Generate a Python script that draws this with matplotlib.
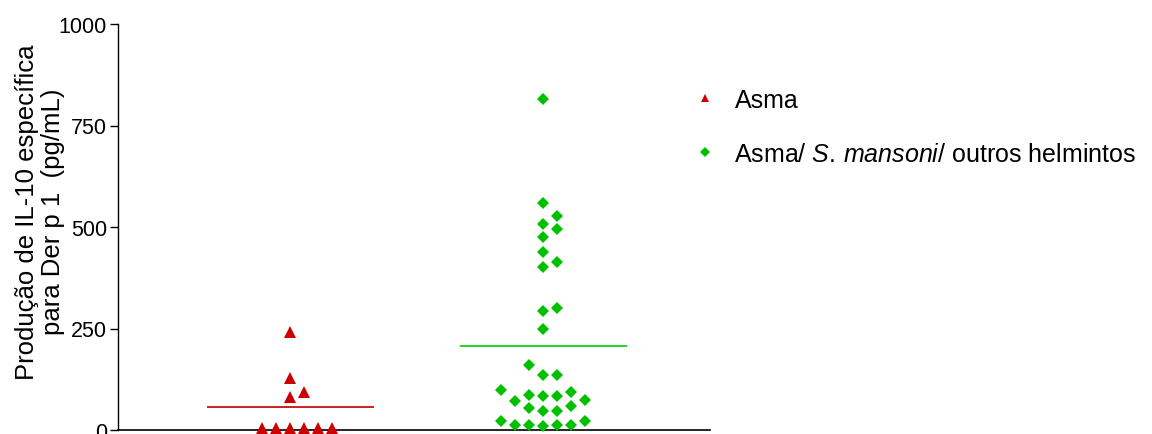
import matplotlib.pyplot as plt
import numpy as np
from matplotlib.lines import Line2D

plt.rcParams['font.family'] = ['Liberation Sans', 'DejaVu Sans']
plt.rcParams['mathtext.fontset'] = 'custom'
plt.rcParams['mathtext.rm'] = 'Liberation Sans'
plt.rcParams['mathtext.it'] = 'Liberation Sans:italic'

# data (pg/mL)
labels = ['Asma', r'Asma/ $\mathit{S.\,mansoni/}$ outros helmintos']
asma = [5, 5, 5, 5, 5, 5, 81, 94, 128, 241]
asma_helm = [10, 12, 12, 12, 12, 22, 22,
             47, 47, 54, 59, 71, 74,
             84, 84, 86, 94, 99,
             135, 135, 160,
             249, 293, 300,
             401, 414, 438, 475, 495, 507, 527, 559,
             815]
groups = [asma, asma_helm]
colors = ['#CC0000', '#00C000']
line_colors = ['#C82020', '#00CC00']
markers = ['^', 'D']
msizes = [8, 6.5]
yticks = [0, 250, 500, 750, 1000]

fig = plt.figure(figsize=(11.52, 4.35), dpi=100)
ax = fig.add_axes([118 / 1152, 4 / 435, 592 / 1152, 406 / 435])
ax.set_xlim(0.32, 2.66)
ax.set_ylim(0, 1000)


def swarm(vals, center, step=14, dist=12):
    # simple beeswarm in pixel space, points on a grid of horizontal slots
    vals = np.asarray(vals, float)
    xs = np.zeros(len(vals))
    placed = []
    cx = ax.transData.transform((center, 0))[0]
    slots = [0]
    for k in range(1, 10):
        slots += [k, -k]
    for i in np.argsort(vals, kind='stable'):
        py = ax.transData.transform((center, vals[i]))[1]
        for k in slots:
            px = cx + k * step
            if all(np.hypot(px - qx, py - qy) >= dist for qx, qy in placed):
                break
        placed.append((px, py))
        xs[i] = ax.transData.inverted().transform((px, py))[0]
    return xs


for i, vals in enumerate(groups):
    pos = i + 1
    xs = swarm(vals, pos)
    ax.plot(xs, vals, linestyle='none', marker=markers[i], ms=msizes[i],
            color=colors[i], mew=0, clip_on=False, zorder=3)
    ax.hlines(np.mean(vals), pos - 0.33, pos + 0.33, color=line_colors[i],
              lw=1.4 if i == 0 else 1.2, zorder=2)

ax.spines['top'].set_visible(False)
ax.spines['right'].set_visible(False)
ax.spines['left'].set_linewidth(1)
ax.spines['bottom'].set_linewidth(1.2)
ax.set_xticks([])
ax.set_yticks(yticks)
ax.tick_params(axis='y', length=6, width=1, labelsize=15.5, pad=2)
ax.set_ylabel('Produção de IL-10 específica\npara Der p 1  (pg/mL)', fontsize=18.5,
              linespacing=1.1)
ax.yaxis.set_label_coords(-0.09, 0.539)

handles = [Line2D([], [], linestyle='none', marker=markers[i], ms=msizes[i] * 0.75,
                  color=colors[i], mew=0) for i in range(2)]
fig.legend(handles, labels, loc='center left', bbox_to_anchor=(692 / 1152, 1 - 128 / 435),
           frameon=False, fontsize=18, handlelength=1, handletextpad=0.7,
           labelspacing=1.2, borderpad=0, borderaxespad=0)

fig.savefig('out.png', dpi=100)
